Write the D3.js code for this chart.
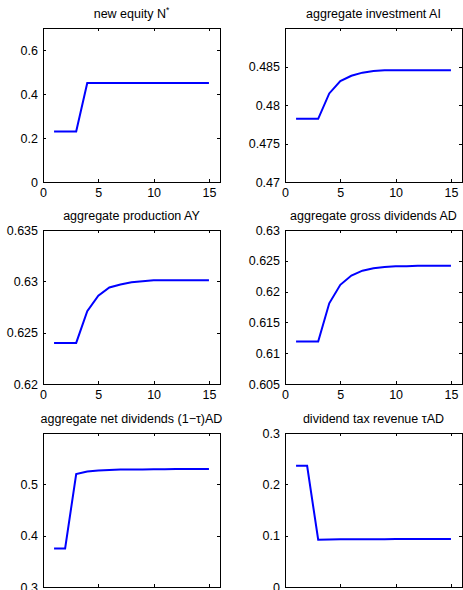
<!DOCTYPE html>
<html>
<head>
<meta charset="utf-8">
<script src="https://cdn.jsdelivr.net/npm/d3@7"></script>
<style>
  body { margin: 0; background: #fff; }
  svg { display: block; font-family: "Liberation Sans", Arial, sans-serif; }
</style>
</head>
<body>
<svg id="chart" width="463" height="590"></svg>
<script>
const periods = [1, 2, 3, 4, 5, 6, 7, 8, 9, 10, 11, 12, 13, 14, 15];
const xTicks = [0, 5, 10, 15];

const newEquity = [0.23, 0.23, 0.23, 0.45, 0.45, 0.45, 0.45, 0.45, 0.45, 0.45, 0.45, 0.45, 0.45, 0.45, 0.45];
const aggInvestment = [0.4782, 0.4782, 0.4782, 0.4815, 0.4831, 0.4838, 0.4842, 0.4844, 0.4845, 0.4845, 0.4845, 0.4845, 0.4845, 0.4845, 0.4845];
const aggProduction = [0.6240, 0.6240, 0.6240, 0.6271, 0.6286, 0.6294, 0.6297, 0.6299, 0.63, 0.6301, 0.6301, 0.6301, 0.6301, 0.6301, 0.6301];
const grossDividends = [0.6119, 0.6119, 0.6119, 0.6181, 0.6211, 0.6226, 0.6234, 0.6238, 0.6240, 0.6241, 0.6241, 0.6242, 0.6242, 0.6242, 0.6242];
const netDividends = [0.375, 0.375, 0.52, 0.525, 0.527, 0.528, 0.529, 0.529, 0.529, 0.5295, 0.5295, 0.53, 0.53, 0.53, 0.53];
const taxRevenue = [0.236, 0.236, 0.092, 0.0925, 0.093, 0.093, 0.093, 0.093, 0.0932, 0.0933, 0.0934, 0.0935, 0.0935, 0.0935, 0.0935];

const panels = [
  { title: ["new equity N", "*"], values: newEquity, domain: [0, 0.7], ticks: [0, 0.2, 0.4, 0.6], fmt: d3.format(".1~f") },
  { title: ["aggregate investment AI"], values: aggInvestment, domain: [0.47, 0.49], ticks: [0.47, 0.475, 0.48, 0.485], fmt: d3.format(".3~f") },
  { title: ["aggregate production AY"], values: aggProduction, domain: [0.62, 0.635], ticks: [0.62, 0.625, 0.63, 0.635], fmt: d3.format(".3~f") },
  { title: ["aggregate gross dividends AD"], values: grossDividends, domain: [0.605, 0.63], ticks: [0.605, 0.61, 0.615, 0.62, 0.625, 0.63], fmt: d3.format(".3~f") },
  { title: ["aggregate net dividends (1\u2212\u03c4)AD"], values: netDividends, domain: [0.3, 0.6], ticks: [0.3, 0.4, 0.5], fmt: d3.format(".1~f") },
  { title: ["dividend tax revenue \u03c4AD"], values: taxRevenue, domain: [0, 0.3], ticks: [0, 0.1, 0.2, 0.3], fmt: d3.format(".1~f") }
];

const svg = d3.select("#chart");
const colLeft = [43, 285];
const rowTop = [28, 230, 433];
const w = 177, h = 154;

panels.forEach(function(p, i) {
  const left = colLeft[i % 2];
  const row = Math.floor(i / 2);
  // bottom row's x labels fall below the picture in the reference
  drawPanel(p, left, rowTop[row], row < 2);
});

function drawPanel(p, left, top, showXLabels) {
  const g = svg.append("g").attr("transform", "translate(" + left + "," + top + ")");

  const x = d3.scaleLinear().domain([0, 16]).range([0, w]);
  const y = d3.scaleLinear().domain(p.domain).range([h, 0]);

  g.append("rect")
    .attr("x", 0).attr("y", 0)
    .attr("width", w).attr("height", h)
    .attr("fill", "none")
    .attr("stroke", "#000")
    .attr("stroke-width", 1)
    .attr("shape-rendering", "crispEdges");

  // ticks on all four sides, pointing inward like matlab
  const bottom = d3.axisBottom(x).tickValues(xTicks).tickSize(-3).tickPadding(6);
  if (!showXLabels) bottom.tickFormat("");
  const topAx = d3.axisTop(x).tickValues(xTicks).tickSize(-3).tickFormat("");
  const leftAx = d3.axisLeft(y).tickValues(p.ticks).tickSize(-3).tickPadding(5).tickFormat(p.fmt);
  const rightAx = d3.axisRight(y).tickValues(p.ticks).tickSize(-3).tickFormat("");

  g.append("g").attr("transform", "translate(0," + h + ")").call(bottom);
  g.append("g").call(topAx);
  g.append("g").call(leftAx);
  g.append("g").attr("transform", "translate(" + w + ",0)").call(rightAx);

  g.selectAll(".domain").remove();
  g.selectAll(".tick line").attr("stroke", "#000").attr("shape-rendering", "crispEdges");
  g.selectAll(".tick text").attr("fill", "#000").style("font-size", "12.5px");

  const line = d3.line()
    .x(function(d, k) { return x(periods[k]); })
    .y(function(d) { return y(d); });

  g.append("path")
    .datum(p.values)
    .attr("d", line)
    .attr("fill", "none")
    .attr("stroke", "#0000ff")
    .attr("stroke-width", 2);

  const title = g.append("text")
    .attr("x", w / 2)
    .attr("y", -10)
    .attr("text-anchor", "middle")
    .style("font-size", "12.5px")
    .attr("fill", "#000");
  title.append("tspan").text(p.title[0]);
  if (p.title.length > 1) {
    title.append("tspan").attr("dy", -5).style("font-size", "8.5px").text(p.title[1]);
  }
}
</script>
</body>
</html>
